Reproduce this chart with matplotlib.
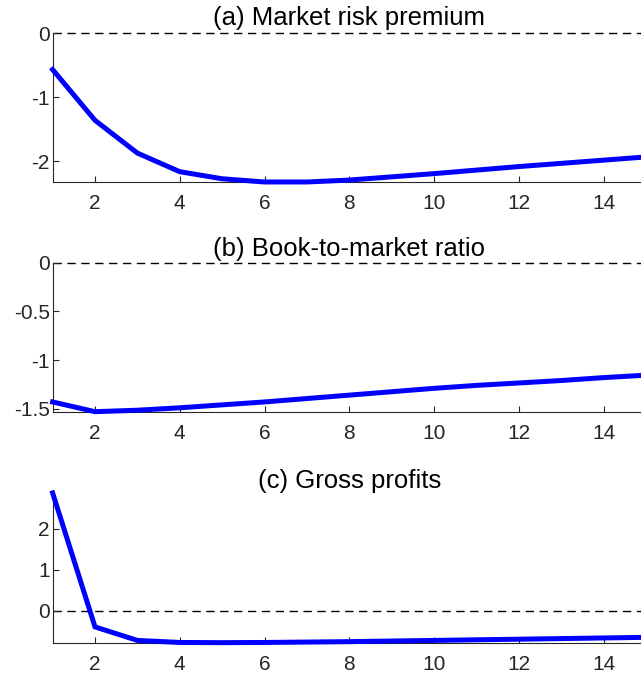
import matplotlib
matplotlib.use("Agg")
from matplotlib import pyplot as plt

plt.rcParams['font.family'] = ['Liberation Sans', 'DejaVu Sans']

horizon = list(range(1, 16))
mrp = [-0.57, -1.36, -1.87, -2.16, -2.27, -2.32, -2.32, -2.29, -2.24, -2.19,
       -2.135, -2.08, -2.03, -1.98, -1.93]
btm = [-1.43, -1.53, -1.515, -1.49, -1.46, -1.43, -1.395, -1.36, -1.325, -1.29,
       -1.26, -1.235, -1.21, -1.18, -1.155]
gp = [2.88, -0.39, -0.72, -0.77, -0.775, -0.77, -0.76, -0.75, -0.735, -0.72,
      -0.705, -0.69, -0.675, -0.66, -0.645]

titles = ['(a) Market risk premium', '(b) Book-to-market ratio', '(c) Gross profits']
yticks = [[0, -1, -2], [0, -0.5, -1, -1.5], [0, 1, 2]]
xticks = [2, 4, 6, 8, 10, 12, 14]

axcol = (0.15, 0.15, 0.15)
fig = plt.figure(figsize=(6.41, 6.75), dpi=100)
boxes = [[0.0821, 0.7304, 0.9257, 0.2207],
         [0.0821, 0.3901, 0.9257, 0.2207],
         [0.0821, 0.0479, 0.9257, 0.2218]]
pads = [6, 5, 3]

for box, series, ttl, yt, tp in zip(boxes, [mrp, btm, gp], titles, yticks, pads):
    ax = fig.add_axes(box)
    ax.axhline(0, color='black', lw=1.0, ls=(0, (6, 4)), clip_on=False, zorder=1)
    ax.plot(horizon, series, color=(0, 0, 1), lw=3.6, clip_on=False, zorder=3,
            solid_joinstyle='miter')
    ax.set_xlim(1, 15)
    ax.set_ylim(min(series), max(max(series), 0))
    ax.set_xticks(xticks)
    ax.set_yticks(yt)
    ax.set_yticklabels([f'{v:g}' for v in yt])
    for s in ['top', 'right']:
        ax.spines[s].set_visible(False)
    for s in ['left', 'bottom']:
        ax.spines[s].set_color(axcol)
        ax.spines[s].set_linewidth(0.8)
    ax.tick_params(direction='in', length=4.5, width=0.8, colors=axcol,
                   labelsize=15)
    ax.tick_params(axis='x', pad=9)
    ax.tick_params(axis='y', pad=2)
    ax.set_title(ttl, fontsize=18.5, pad=tp, color='black')

fig.savefig('out.png', dpi=100)
